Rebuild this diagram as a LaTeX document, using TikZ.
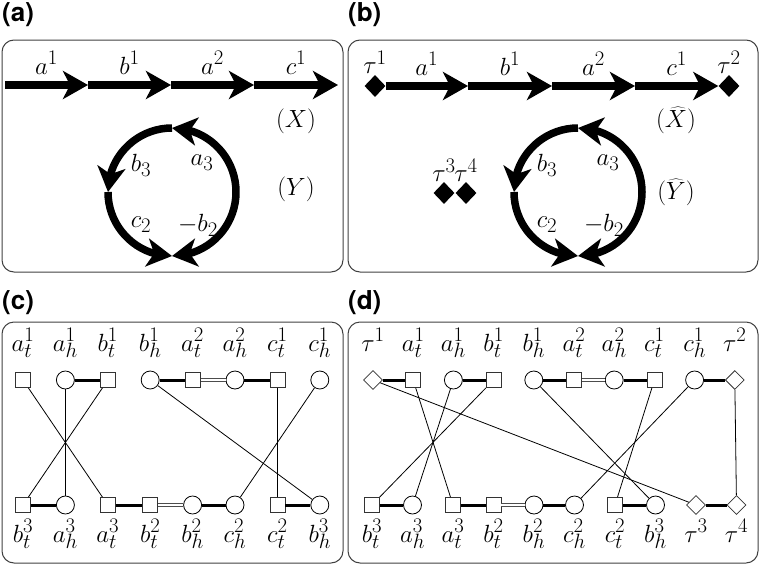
\documentclass[tikz,border=0pt]{standalone}
\usepackage{fontspec}
\newfontfamily\panelfont{TeX Gyre Heros}
\usepackage{tikz}
\usetikzlibrary{shapes.geometric, arrows.meta, bending, positioning}
\tikzstyle{panel} = [draw=black!75, line width=1pt, rounded corners=12pt]
\tikzstyle{tag} = [font=\panelfont\bfseries\fontsize{26}{30}\selectfont, inner sep=0pt, anchor=north west]
\tikzstyle{seg} = [line width=7.5pt, -{Stealth[length=25pt, width=28pt, inset=7pt]}]
\tikzstyle{ring} = [line width=7.5pt, -{Stealth[length=25pt, width=28pt, inset=7pt]}]
\tikzstyle{lbl} = [midway, anchor=base, yshift=11pt]
\tikzstyle{bdia} = [diamond, fill=black, inner sep=0pt, minimum width=21pt, minimum height=22pt]
\tikzstyle{hdia} = [diamond, draw=black!80, line width=0.8pt, fill=white, inner sep=0pt, minimum width=19pt, minimum height=19pt]
\tikzstyle{sq} = [rectangle, draw=black!80, line width=0.8pt, fill=white, inner sep=0pt, minimum size=15pt]
\tikzstyle{rnd} = [circle, draw=black, line width=0.8pt, fill=white, inner sep=0pt, minimum size=18pt]
\tikzstyle{bond} = [line width=3pt]
\tikzstyle{twin} = [draw=black!70, line width=0.7pt, double=white, double distance=2pt]
\tikzstyle{link} = [line width=0.8pt]
\tikzstyle{toplab} = [anchor=base, yshift=29pt]
\tikzstyle{botlab} = [anchor=base, yshift=-37pt]

\begin{document}
\begin{tikzpicture}[x=1pt, y=1pt, font=\Huge]
    \useasboundingbox (0,0) rectangle (760,-565);

    % panel frames
    \node (taga) [tag] at (2,-2) {(a)};
    \node (tagb) [tag] at (348,-2) {(b)};
    \node (tagc) [tag] at (2,-290) {(c)};
    \node (tagd) [tag] at (348,-290) {(d)};
    \draw [panel] (2,-40) rectangle (343,-272);
    \draw [panel] (348,-40) rectangle (758,-272);
    \draw [panel] (2,-322) rectangle (343,-563);
    \draw [panel] (348,-322) rectangle (758,-563);

    % (a)
    \coordinate (pa0) at (5,-85);
    \coordinate (pa1) at (88,-85);
    \coordinate (pa2) at (171,-85);
    \coordinate (pa3) at (254,-85);
    \coordinate (pa4) at (338,-85);
    \draw [seg] (pa0) -- node [lbl] {$a^1$} (pa1);
    \draw [seg] (pa1) -- node [lbl] {$b^1$} (pa2);
    \draw [seg] (pa2) -- node [lbl] {$a^2$} (pa3);
    \draw [seg] (pa3) -- node [lbl] {$c^1$} (pa4);
    \node (xa) at (296,-121) {$(X)$};
    \node (ya) at (296,-189) {$(Y)$};
    \coordinate (ca) at (172,-192);
    \draw [ring] ([shift={(90:64)}]ca) arc (90:180:64);
    \draw [ring] ([shift={(180:64)}]ca) arc (180:270:64);
    \draw [ring] ([shift={(0:64)}]ca) arc (0:90:64);
    \draw [ring] ([shift={(0:64)}]ca) arc (0:-90:64);
    \node (b3a) at (141,-165) {$b_3$};
    \node (a3a) at (202,-163) {$a_3$};
    \node (c2a) at (141,-225) {$c_2$};
    \node (b2a) at (198,-225) {$-b_2$};

    % (b)
    \node (tau1) [bdia, label={[label distance=-2pt]above:$\tau^1$}] at (375,-86) {};
    \node (tau2) [bdia, label={[label distance=-2pt]above:$\tau^2$}] at (729,-86) {};
    \coordinate (pb1) at (468,-86);
    \coordinate (pb2) at (552,-86);
    \coordinate (pb3) at (635,-86);
    \draw [seg] (tau1) -- node [lbl] {$a^1$} (pb1);
    \draw [seg] (pb1) -- node [lbl] {$b^1$} (pb2);
    \draw [seg] (pb2) -- node [lbl] {$a^2$} (pb3);
    \draw [seg] (pb3) -- node [lbl] {$c^1$} (tau2);
    \node (xb) at (676,-120) {$(\widehat{X})$};
    \node (yb) at (676,-192) {$(\widehat{Y})$};
    \node (tau3) [bdia, label={[label distance=-3pt]above:$\tau^3$}] at (444,-193) {};
    \node (tau4) [bdia, label={[label distance=-3pt]above:$\tau^4$}] at (466,-193) {};
    \coordinate (cb) at (578,-192);
    \draw [ring] ([shift={(90:64)}]cb) arc (90:180:64);
    \draw [ring] ([shift={(180:64)}]cb) arc (180:270:64);
    \draw [ring] ([shift={(0:64)}]cb) arc (0:90:64);
    \draw [ring] ([shift={(0:64)}]cb) arc (0:-90:64);
    \node (b3b) at (547,-165) {$b_3$};
    \node (a3b) at (608,-163) {$a_3$};
    \node (c2b) at (547,-225) {$c_2$};
    \node (b2b) at (604,-225) {$-b_2$};

    % (c)
    \begin{scope}[node distance=42.4pt]
        \node (cat1) [sq] at (23,-380) {};
        \node (cah1) [rnd, right of=cat1] {};
        \node (cbt1) [sq, right of=cah1] {};
        \node (cbh1) [rnd, right of=cbt1] {};
        \node (cat2) [sq, right of=cbh1] {};
        \node (cah2) [rnd, right of=cat2] {};
        \node (cct1) [sq, right of=cah2] {};
        \node (cch1) [rnd, right of=cct1] {};
        \node (cbt3) [sq] at (23,-505) {};
        \node (cah3) [rnd, right of=cbt3] {};
        \node (cat3) [sq, right of=cah3] {};
        \node (cbt2) [sq, right of=cat3] {};
        \node (cbh2) [rnd, right of=cbt2] {};
        \node (cch2) [rnd, right of=cbh2] {};
        \node (cct2) [sq, right of=cch2] {};
        \node (cbh3) [rnd, right of=cct2] {};
    \end{scope}
    \node (lcat1) [toplab] at (cat1) {$a_t^1$};
    \node (lcah1) [toplab] at (cah1) {$a_h^1$};
    \node (lcbt1) [toplab] at (cbt1) {$b_t^1$};
    \node (lcbh1) [toplab] at (cbh1) {$b_h^1$};
    \node (lcat2) [toplab] at (cat2) {$a_t^2$};
    \node (lcah2) [toplab] at (cah2) {$a_h^2$};
    \node (lcct1) [toplab] at (cct1) {$c_t^1$};
    \node (lcch1) [toplab] at (cch1) {$c_h^1$};
    \node (lcbt3) [botlab] at (cbt3) {$b_t^3$};
    \node (lcah3) [botlab] at (cah3) {$a_h^3$};
    \node (lcat3) [botlab] at (cat3) {$a_t^3$};
    \node (lcbt2) [botlab] at (cbt2) {$b_t^2$};
    \node (lcbh2) [botlab] at (cbh2) {$b_h^2$};
    \node (lcch2) [botlab] at (cch2) {$c_h^2$};
    \node (lcct2) [botlab] at (cct2) {$c_t^2$};
    \node (lcbh3) [botlab] at (cbh3) {$b_h^3$};

    \draw [bond] (cah1) -- (cbt1);
    \draw [bond] (cbh1) -- (cat2);
    \draw [twin] (cat2) -- (cah2);
    \draw [bond] (cah2) -- (cct1);
    \draw [bond] (cbt3) -- (cah3);
    \draw [bond] (cat3) -- (cbt2);
    \draw [twin] (cbt2) -- (cbh2);
    \draw [bond] (cbh2) -- (cch2);
    \draw [bond] (cct2) -- (cbh3);
    \draw [link] (cat1) -- (cat3);
    \draw [link] (cah1) -- (cah3);
    \draw [link] (cbt1) -- (cbt3);
    \draw [link] (cbh1) -- (cbh3);
    \draw [link] (cct1) -- (cct2);
    \draw [link] (cch1) -- (cch2);

    % (d)
    \begin{scope}[node distance=40.2pt]
        \node (dtau1) [hdia] at (373,-380) {};
        \node (dat1) [sq, right of=dtau1] {};
        \node (dah1) [rnd, right of=dat1] {};
        \node (dbt1) [sq, right of=dah1] {};
        \node (dbh1) [rnd, right of=dbt1] {};
        \node (dat2) [sq, right of=dbh1] {};
        \node (dah2) [rnd, right of=dat2] {};
        \node (dct1) [sq, right of=dah2] {};
        \node (dch1) [rnd, right of=dct1] {};
        \node (dtau2) [hdia, right of=dch1] {};
    \end{scope}
    \begin{scope}[node distance=40.5pt]
        \node (dbt3) [sq] at (372,-505) {};
        \node (dah3) [rnd, right of=dbt3] {};
        \node (dat3) [sq, right of=dah3] {};
        \node (dbt2) [sq, right of=dat3] {};
        \node (dbh2) [rnd, right of=dbt2] {};
        \node (dch2) [rnd, right of=dbh2] {};
        \node (dct2) [sq, right of=dch2] {};
        \node (dbh3) [rnd, right of=dct2] {};
        \node (dtau3) [hdia, right of=dbh3] {};
        \node (dtau4) [hdia, right of=dtau3] {};
    \end{scope}
    \node (ldtau1) [toplab] at (dtau1) {$\tau^1$};
    \node (ldat1) [toplab] at (dat1) {$a_t^1$};
    \node (ldah1) [toplab] at (dah1) {$a_h^1$};
    \node (ldbt1) [toplab] at (dbt1) {$b_t^1$};
    \node (ldbh1) [toplab] at (dbh1) {$b_h^1$};
    \node (ldat2) [toplab] at (dat2) {$a_t^2$};
    \node (ldah2) [toplab] at (dah2) {$a_h^2$};
    \node (ldct1) [toplab] at (dct1) {$c_t^1$};
    \node (ldch1) [toplab] at (dch1) {$c_h^1$};
    \node (ldtau2) [toplab] at (dtau2) {$\tau^2$};
    \node (ldbt3) [botlab] at (dbt3) {$b_t^3$};
    \node (ldah3) [botlab] at (dah3) {$a_h^3$};
    \node (ldat3) [botlab] at (dat3) {$a_t^3$};
    \node (ldbt2) [botlab] at (dbt2) {$b_t^2$};
    \node (ldbh2) [botlab] at (dbh2) {$b_h^2$};
    \node (ldch2) [botlab] at (dch2) {$c_h^2$};
    \node (ldct2) [botlab] at (dct2) {$c_t^2$};
    \node (ldbh3) [botlab] at (dbh3) {$b_h^3$};
    \node (ldtau3) [botlab] at (dtau3) {$\tau^3$};
    \node (ldtau4) [botlab] at (dtau4) {$\tau^4$};

    \draw [bond] (dtau1) -- (dat1);
    \draw [bond] (dah1) -- (dbt1);
    \draw [bond] (dbh1) -- (dat2);
    \draw [twin] (dat2) -- (dah2);
    \draw [bond] (dah2) -- (dct1);
    \draw [bond] (dch1) -- (dtau2);
    \draw [bond] (dbt3) -- (dah3);
    \draw [bond] (dat3) -- (dbt2);
    \draw [twin] (dbt2) -- (dbh2);
    \draw [bond] (dbh2) -- (dch2);
    \draw [bond] (dct2) -- (dbh3);
    \draw [bond] (dtau3) -- (dtau4);
    \draw [link] (dtau1) -- (dtau3);
    \draw [link] (dat1) -- (dat3);
    \draw [link] (dah1) -- (dah3);
    \draw [link] (dbt1) -- (dbt3);
    \draw [link] (dbh1) -- (dbh3);
    \draw [link] (dct1) -- (dct2);
    \draw [link] (dch1) -- (dch2);
    \draw [link] (dtau2) -- (dtau4);
\end{tikzpicture}
\end{document}
